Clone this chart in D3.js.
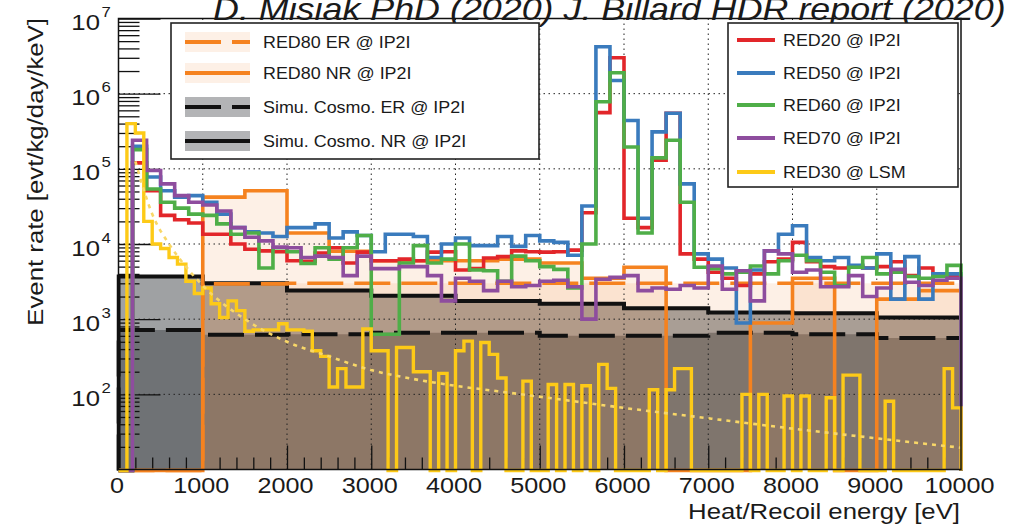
<!DOCTYPE html>
<html>
<head>
<meta charset="utf-8">
<script src="https://cdn.jsdelivr.net/npm/d3@7/dist/d3.min.js"></script>
<style>
  html, body { margin: 0; padding: 0; background: #fff; }
  svg { display: block; }
  text { font-family: "Liberation Sans", Arial, Helvetica, sans-serif; fill: #1a1a1a; }
</style>
</head>
<body>
<svg id="chart" width="1014" height="525"></svg>
<script>
// ---------------- data (event rate, evt/kg/day/keV) ----------------
// IP2I detectors: 0-10 keV in 60 bins
const detBinCount = 60;
const red20 = [0, 1.2e5, 5.1e4, 2.4e4, 2.1e4, 1.9e4, 1.35e4, 1.35e4, 1.0e4, 8.5e3,
  8.1e3, 7.9e3, 6.0e3, 5.9e3, 7.6e3, 8.9e3, 5.6e3, 7.8e3, 6.0e3, 6.0e3,
  6.3e3, 6.0e3, 7.8e3, 7.9e3, 4.5e3, 4.7e3, 6.5e3, 6.8e3, 8.1e3, 7.9e3,
  7.8e3, 7.9e3, 8.3e3, 2.6e4, 5.6e5, 3.0e6, 2.2e4, 1.65e4, 1.3e5, 5.5e5,
  7.4e3, 6.3e3, 4.2e3, 3.5e3, 2.8e3, 4.0e3, 5.8e3, 6.3e3, 1.05e4, 5.8e3,
  5.0e3, 4.8e3, 5.0e3, 4.8e3, 5.0e3, 5.8e3, 3.8e3, 4.8e3, 3.8e3, 3.8e3];
const red50 = [0, 2.0e5, 7.8e4, 5.1e4, 4.2e4, 4.4e4, 3.6e4, 2.5e4, 1.65e4, 1.45e4,
  1.4e4, 1.26e4, 1.65e4, 1.65e4, 1.85e4, 1.2e4, 1.45e4, 1.3e4, 7.9e3, 1.35e4,
  1.35e4, 1.26e4, 6.6e3, 1.0e4, 1.2e4, 9.5e3, 9.5e3, 1.26e4, 9.3e3, 1.3e4,
  1.1e4, 1.05e4, 7.1e3, 3.2e4, 4.2e6, 1.5e6, 4.4e5, 2.2e4, 3.1e5, 5.5e5,
  6.3e4, 7.4e3, 6.3e3, 4.8e3, 8.9e2, 4.5e3, 8.1e3, 1.35e4, 1.75e4, 6.6e3,
  6.0e3, 6.6e3, 5.2e3, 4.8e3, 7.4e3, 1.85e3, 6.8e3, 1.85e3, 4.0e3, 4.0e3];
const red60 = [0, 1.8e5, 5.4e4, 3.6e4, 3.0e4, 2.5e4, 2.4e4, 1.85e4, 1.35e4, 1.4e4,
  4.8e3, 8.9e3, 7.9e3, 5.5e3, 8.9e3, 6.3e3, 8.9e3, 1.3e4, 6.3e2, 6.3e2,
  5.6e3, 9.5e3, 5.6e3, 6.3e3, 1.0e4, 4.5e3, 4.4e3, 3.2e3, 6.9e3, 6.0e3,
  5.0e3, 4.6e3, 2.6e3, 1.0e4, 7.8e5, 1.9e6, 1.95e5, 1.4e4, 1.4e5, 2.4e5,
  3.6e4, 4.9e3, 4.7e3, 4.0e3, 4.2e3, 5.1e3, 4.0e3, 6.0e3, 7.1e3, 6.0e3,
  4.2e3, 2.8e3, 4.9e3, 6.6e3, 4.0e3, 4.2e3, 3.7e3, 3.5e3, 3.7e3, 5.2e3];
const red70 = [0, 2.4e5, 9.5e4, 6.3e4, 4.4e4, 3.6e4, 3.3e4, 2.75e4, 1.65e4, 1.23e4,
  1.1e4, 9.1e3, 8.9e3, 6.6e3, 6.9e3, 6.6e3, 3.8e3, 6.9e3, 4.7e3, 4.7e3,
  5.0e3, 5.0e3, 3.8e3, 1.75e3, 3.5e3, 3.2e3, 2.4e3, 3.2e3, 2.7e3, 2.8e3,
  3.2e3, 3.3e3, 2.7e3, 1.0e3, 3.4e3, 3.6e3, 3.8e3, 2.4e3, 2.6e3, 2.5e3,
  2.8e3, 2.6e3, 5.1e3, 2.5e3, 4.4e3, 1.75e3, 8.1e3, 7.4e3, 4.2e3, 4.5e3,
  2.7e3, 2.7e3, 3.8e3, 2.0e3, 2.6e3, 4.6e3, 3.1e3, 2.8e3, 3.3e3, 3.5e3];

// LSM detector: 100 eV bins
const lsmBinWidth = 100;
const red30 = [0, 4.0e5, 3.0e5, 2.0e4, 1.0e4, 8.7e3, 6.6e3, 5.4e3, 3.2e3, 2.2e3,
  2.6e3, 1.6e3, 1.05e3, 1.75e3, 1.3e3, 690, 720, 720, 720, 870,
  720, 720, 690, 380, 320, 125, 220, 125, 125, 740,
  380, 380, 0, 420, 420, 200, 200, 0, 190, 0,
  380, 510, 0, 490, 340, 165, 0, 0, 150, 0,
  0, 135, 0, 135, 0, 130, 0, 250, 120, 0,
  0, 0, 0, 115, 0, 115, 220, 220, 0, 0,
  0, 0, 0, 0, 100, 0, 100, 0, 0, 95,
  0, 95, 0, 0, 90, 0, 180, 180, 0, 0,
  0, 81, 0, 0, 0, 0, 0, 0, 220, 66];
// smooth model drawn over RED30
const red30FitE = [200, 400, 600, 800, 1000, 1500, 2000, 2500, 3000, 3500, 4000, 4500, 5000, 6000, 7000, 8000, 9000, 10000];
const red30FitRate = [1.26e5, 2.5e4, 1.0e4, 5.0e3, 2.8e3, 1.0e3, 500, 320, 210, 160, 130, 110, 93, 66, 48, 35, 26, 19.5];

// RED80 ER / NR spectra
const red80ErEdges = [0, 1000, 2000, 3000, 4000, 5000, 6000, 7000, 8000, 9000, 10000];
const red80Er = [0, 2950, 3000, 3000, 3000, 3000, 3000, 3000, 3000, 3000];
const red80NrEdges = [0, 500, 1000, 1500, 2000, 2500, 3000, 3500, 4000, 4500, 5000,
  5500, 6000, 6500, 7000, 7500, 8000, 8500, 9000, 9500, 10000];
const red80Nr = [0, 0, 4.2e4, 5.1e4, 1.4e4, 8.0e3, 6.0e3, 6.0e3, 6.0e3, 6.3e3,
  5.6e3, 3.5e3, 4.9e3, 0, 0, 890, 3.5e3, 0, 1.85e3, 2.4e3];

// cosmogenic simulation, 1 keV bins
const cosmoEdges = [0, 1000, 2000, 3000, 4000, 5000, 6000, 7000, 8000, 9000, 10000];
const cosmoNr = [3.7e3, 3.0e3, 2.4e3, 2.05e3, 1.75e3, 1.6e3, 1.4e3, 1.23e3, 1.2e3, 1.05e3];
const cosmoEr = [720, 620, 630, 660, 660, 600, 600, 660, 630, 560];

// axes
const xTickLabels = ["0", "1000", "2000", "3000", "4000", "5000", "6000", "7000", "8000", "9000", "10000"];
const yDecadeExponents = ["2", "3", "4", "5", "6", "7"];
const legendLeftLabels = ["RED80 ER @ IP2I", "RED80 NR @ IP2I", "Simu. Cosmo. ER @ IP2I", "Simu. Cosmo. NR @ IP2I"];
const legendRightLabels = ["RED20 @ IP2I", "RED50 @ IP2I", "RED60 @ IP2I", "RED70 @ IP2I", "RED30 @ LSM"];
const titleText = "D. Misiak PhD (2020) J. Billard HDR report (2020)";

// ---------------- styling ----------------
const C = {
  red: "#e2262a", blue: "#3a7bbd", green: "#4fae48", purple: "#8e4d9e",
  yellow: "#fdca17", orange: "#f5821f", black: "#111111",
  orangeFill: "#f08a3c", grayFill: "#404448"
};
const grayOpacity = 0.5, orangeOpacity = 0.13;
const SX = 1.12;   // horizontal glyph stretch of the canvas fonts

const W = 1014, H = 525;
const frame = { left: 118.5, right: 961, top: 18.5, bottom: 469.5 };
const x = d3.scaleLinear().domain([0, 10000]).range([frame.left, frame.right]);
const y = d3.scaleLog().domain([10, 1e7]).range([frame.bottom, frame.top]);
const yBase = frame.bottom + 1;
const yOf = v => (v > 0 ? y(v) : yBase);

const svg = d3.select("#chart");
svg.append("rect").attr("width", W).attr("height", H).attr("fill", "#fff");

const defs = svg.append("defs");
defs.append("clipPath").attr("id", "plotClip").append("rect")
  .attr("x", frame.left - 2).attr("y", frame.top - 1)
  .attr("width", frame.right - frame.left + 4).attr("height", frame.bottom - frame.top + 6);
defs.append("clipPath").attr("id", "fillClip").append("rect")
  .attr("x", frame.left).attr("y", frame.top)
  .attr("width", frame.right - frame.left).attr("height", frame.bottom - frame.top);

const uniformEdges = (n, w) => d3.range(n + 1).map(i => i * w);
const detEdges = uniformEdges(detBinCount, 10000 / detBinCount);
const lsmEdges = uniformEdges(red30.length, lsmBinWidth);

function stepPoints(edges, vals) {
  const pts = [[x(edges[0]), yBase]];
  vals.forEach((v, i) => {
    const py = yOf(v);
    pts.push([x(edges[i]), py], [x(edges[i + 1]), py]);
  });
  pts.push([x(edges[edges.length - 1]), yBase]);
  return pts;
}
const line = d3.line();
const area = d3.area().x(d => d[0]).y0(frame.bottom).y1(d => Math.min(d[1], frame.bottom));

// ---- filled spectra ----
const gFill = svg.append("g").attr("clip-path", "url(#fillClip)");
[[cosmoEdges, cosmoNr], [cosmoEdges, cosmoEr]].forEach(([e, v]) => {
  gFill.append("path").attr("d", area(stepPoints(e, v)))
    .attr("fill", C.grayFill).attr("fill-opacity", grayOpacity);
});
[[red80NrEdges, red80Nr], [red80ErEdges, red80Er]].forEach(([e, v]) => {
  gFill.append("path").attr("d", area(stepPoints(e, v)))
    .attr("fill", C.orangeFill).attr("fill-opacity", orangeOpacity);
});

// ---- grid ----
const gGrid = svg.append("g").attr("stroke", "#222").attr("stroke-width", 1)
  .attr("stroke-dasharray", "1.5,3.5");
d3.range(1000, 10000, 1000).forEach(v => {
  gGrid.append("line").attr("x1", x(v)).attr("x2", x(v))
    .attr("y1", frame.top).attr("y2", frame.bottom);
});
[100, 1e3, 1e4, 1e5, 1e6].forEach(v => {
  gGrid.append("line").attr("x1", frame.left).attr("x2", frame.right)
    .attr("y1", y(v)).attr("y2", y(v));
});

// ---- ticks (inward, ROOT style) ----
const xMinor = d3.range(0, 10001, 200).filter(v => v % 1000 !== 0);
const xMajor = d3.range(0, 10001, 1000);
function styleAxis(g) {
  g.select(".domain").remove();
  g.selectAll(".tick line").attr("stroke", "#111").attr("stroke-width", 1.3);
  g.selectAll(".tick text").remove();
}
svg.append("g").attr("transform", `translate(0,${frame.bottom})`)
  .call(d3.axisBottom(x).tickValues(xMinor).tickSize(-12).tickSizeOuter(0)).call(styleAxis);
svg.append("g").attr("transform", `translate(0,${frame.bottom})`)
  .call(d3.axisBottom(x).tickValues(xMajor).tickSize(-24).tickSizeOuter(0)).call(styleAxis);

const yMajor = [10, 100, 1e3, 1e4, 1e5, 1e6, 1e7];
const yMinor = [];
yMajor.slice(0, -1).forEach(d => { for (let m = 2; m <= 9; m++) yMinor.push(m * d); });
svg.append("g").attr("transform", `translate(${frame.left},0)`)
  .call(d3.axisLeft(y).tickValues(yMinor).tickSize(-21).tickSizeOuter(0)).call(styleAxis);
svg.append("g").attr("transform", `translate(${frame.left},0)`)
  .call(d3.axisLeft(y).tickValues(yMajor).tickSize(-42).tickSizeOuter(0)).call(styleAxis);

// ---- histogram outlines ----
const gLines = svg.append("g").attr("clip-path", "url(#plotClip)").attr("fill", "none")
  .attr("stroke-linejoin", "miter").attr("stroke-linecap", "butt");
const drawStep = (e, v, color, w, dash) => gLines.append("path")
  .attr("d", line(stepPoints(e, v))).attr("stroke", color).attr("stroke-width", w)
  .attr("stroke-dasharray", dash || null);

drawStep(cosmoEdges, cosmoNr, C.black, 4);
drawStep(cosmoEdges, cosmoEr, C.black, 4, "36,11");
drawStep(red80ErEdges, red80Er, C.orange, 3.6, "36,11");
drawStep(red80NrEdges, red80Nr, C.orange, 3.6);
drawStep(detEdges, red20, C.red, 3.6);
drawStep(detEdges, red50, C.blue, 3.6);
drawStep(detEdges, red60, C.green, 3.6);
drawStep(detEdges, red70, C.purple, 3.6);
drawStep(lsmEdges, red30, C.yellow, 3.4);

// model curve for RED30 (dotted)
const fitLine = d3.line().x(d => x(d[0])).y(d => y(d[1])).curve(d3.curveMonotoneX);
gLines.append("path").attr("d", fitLine(red30FitE.map((e, i) => [e, red30FitRate[i]])))
  .attr("stroke", "#f8d768").attr("stroke-width", 2.6).attr("stroke-dasharray", "4,5");

// ---- frame ----
svg.append("rect").attr("x", frame.left).attr("y", frame.top)
  .attr("width", frame.right - frame.left).attr("height", frame.bottom - frame.top)
  .attr("fill", "none").attr("stroke", "#111").attr("stroke-width", 1.5);

// ---- text helper (stretched glyphs) ----
function label(g, str, px, py, size, anchor, extra) {
  const t = g.append("text").attr("transform", `translate(${px},${py}) scale(${SX},1)`)
    .attr("font-size", size).attr("text-anchor", anchor || "start").text(str);
  if (extra) extra(t);
  return t;
}

// x tick labels
const gLab = svg.append("g");
xTickLabels.forEach((s, i) => label(gLab, s, x(xMajor[i]) - 1.5, 493, 22.5, "middle"));
// y tick labels 10^n
yDecadeExponents.forEach(ex => {
  const py = y(Math.pow(10, +ex));
  label(gLab, "10", 100, py + 11.5, 23, "end");
  label(gLab, ex, 101.5, py - 1.5, 15, "start");
});

// axis titles
label(gLab, "Heat/Recoil energy [eV]", 960, 519, 23, "end");
gLab.append("text").attr("transform", `translate(43,18) rotate(-90) scale(${SX},1)`)
  .attr("font-size", 23).attr("text-anchor", "end").text("Event rate [evt/kg/day/keV]");

// ---- header ----
label(svg, titleText, 213, 20, 32, "start", t => t.attr("font-style", "italic"));

// ---- legends ----
function legendBox(x0, y0, x1, y1) {
  svg.append("rect").attr("x", x0).attr("y", y0).attr("width", x1 - x0).attr("height", y1 - y0)
    .attr("fill", "#fff").attr("stroke", "#222").attr("stroke-width", 1.6);
}
legendBox(171, 23, 539, 159);
const leftRows = [42, 73, 107, 141];
const leftStyle = [
  { fill: C.orangeFill, op: orangeOpacity, stroke: C.orange, dash: "36,11" },
  { fill: C.orangeFill, op: orangeOpacity, stroke: C.orange, dash: null },
  { fill: C.grayFill, op: grayOpacity * 0.8, stroke: C.black, dash: "36,11" },
  { fill: C.grayFill, op: grayOpacity * 0.8, stroke: C.black, dash: null }
];
legendLeftLabels.forEach((s, i) => {
  const cy = leftRows[i], st = leftStyle[i];
  svg.append("rect").attr("x", 185).attr("y", cy - 10).attr("width", 65).attr("height", 20)
    .attr("fill", st.fill).attr("fill-opacity", st.op);
  svg.append("line").attr("x1", 185).attr("x2", 250).attr("y1", cy).attr("y2", cy)
    .attr("stroke", st.stroke).attr("stroke-width", 4).attr("stroke-dasharray", st.dash);
  label(svg, s, 263, cy + 6, 16, "start");
});

legendBox(728, 23, 958, 187);
const rightRows = [40, 73, 105, 138, 172];
const rightColors = [C.red, C.blue, C.green, C.purple, C.yellow];
legendRightLabels.forEach((s, i) => {
  const cy = rightRows[i];
  svg.append("line").attr("x1", 737).attr("x2", 775).attr("y1", cy).attr("y2", cy)
    .attr("stroke", rightColors[i]).attr("stroke-width", 4);
  label(svg, s, 783, cy + 6, 16, "start");
});
</script>
</body>
</html>
